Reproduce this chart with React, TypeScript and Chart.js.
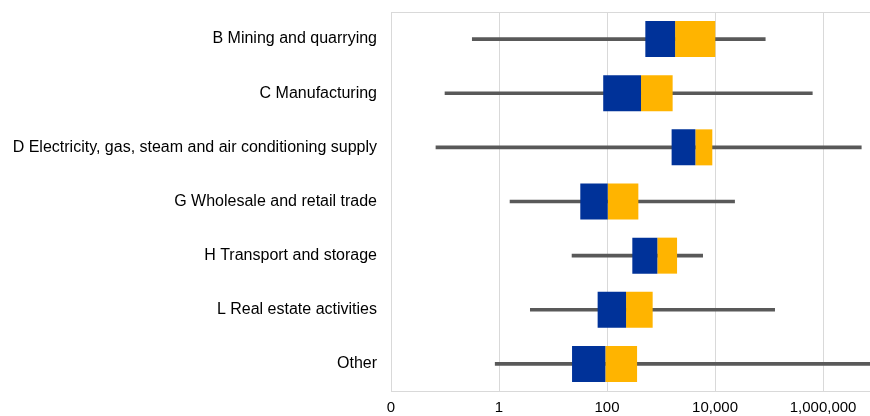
import React, { useEffect, useRef } from 'react';
import { Chart, registerables } from 'chart.js';

Chart.register(...registerables);

const categories = [
  'B Mining and quarrying',
  'C Manufacturing',
  'D Electricity, gas, steam and air conditioning supply',
  'G Wholesale and retail trade',
  'H Transport and storage',
  'L Real estate activities',
  'Other',
];
const whiskerMin = [0.32, 0.1, 0.068, 1.6, 22.5, 3.8, 0.85];
const q1 = [512, 85, 1570, 32, 294, 67, 22.5];
const median = [1820, 426, 4320, 103, 854, 225, 93];
const q3 = [10100, 1640, 8900, 380, 1980, 700, 360];
const whiskerMax = [85000, 632000, 5100000, 23000, 5900, 127000, 20000000];
const tickValues = [0.01, 1, 100, 10000, 1000000];
const axisMin = 0.01;
const axisMax = 7400000;

const FONT = "Arial, 'Liberation Sans', sans-serif";

export default function App() {
  const ref = useRef<HTMLCanvasElement | null>(null);

  useEffect(() => {
    if (!ref.current) return;
    const chart = new Chart(ref.current, {
      type: 'bar',
      data: {
        labels: categories,
        datasets: [
          {
            label: 'Q1 - median',
            data: categories.map((_, i) => [q1[i], median[i]]) as any,
            backgroundColor: '#003299',
            borderWidth: 0,
            grouped: false,
            order: 1,
            barPercentage: 0.665,
            categoryPercentage: 1,
          },
          {
            label: 'median - Q3',
            data: categories.map((_, i) => [median[i], q3[i]]) as any,
            backgroundColor: '#FFB400',
            borderWidth: 0,
            grouped: false,
            order: 1,
            barPercentage: 0.665,
            categoryPercentage: 1,
          },
          {
            label: 'range',
            data: categories.map((_, i) => [whiskerMin[i], whiskerMax[i]]) as any,
            backgroundColor: '#595959',
            borderWidth: 0,
            grouped: false,
            order: 3,
            barThickness: 3,
          },
        ],
      },
      options: {
        indexAxis: 'y',
        animation: false,
        responsive: true,
        maintainAspectRatio: false,
        layout: { padding: { top: 12, left: 0, right: 0, bottom: 0 } },
        plugins: {
          legend: { display: false },
          tooltip: { enabled: false },
        },
        scales: {
          x: {
            type: 'logarithmic',
            position: 'bottom',
            min: axisMin,
            max: axisMax,
            afterBuildTicks: (scale: any) => {
              scale.ticks = tickValues.map((v) => ({ value: v }));
            },
            afterFit: (scale: any) => {
              scale.height = 25;
            },
            grid: { color: '#d9d9d9', lineWidth: 1, drawTicks: false },
            border: { color: '#d9d9d9', width: 1 },
            ticks: {
              padding: 8,
              color: '#000',
              font: { family: FONT, size: 15 },
              autoSkip: false,
              maxRotation: 0,
              callback: (value: any) => {
                const v = Number(value);
                return v < 1 ? '0' : v.toLocaleString('en-US');
              },
            },
          },
          x2: {
            type: 'linear',
            position: 'top',
            min: 0,
            max: 1,
            grid: { display: false, drawTicks: false },
            ticks: { display: false },
            border: { color: '#d9d9d9', width: 1 },
            afterFit: (scale: any) => {
              scale.height = 0;
            },
          },
          y: {
            type: 'category',
            grid: { display: false, drawTicks: false },
            border: { color: '#d9d9d9', width: 1 },
            afterFit: (scale: any) => {
              scale.width = 391;
              scale.paddingTop = 0;
              scale.paddingBottom = 0;
            },
            ticks: {
              padding: 14,
              color: '#000',
              font: { family: FONT, size: 16 },
              autoSkip: false,
            },
          },
        },
      } as any,
    });
    return () => chart.destroy();
  }, []);

  return (
    <div style={{ position: 'absolute', left: 0, top: 0, width: 870, height: 416, background: '#fff' }}>
      <canvas ref={ref} />
    </div>
  );
}
